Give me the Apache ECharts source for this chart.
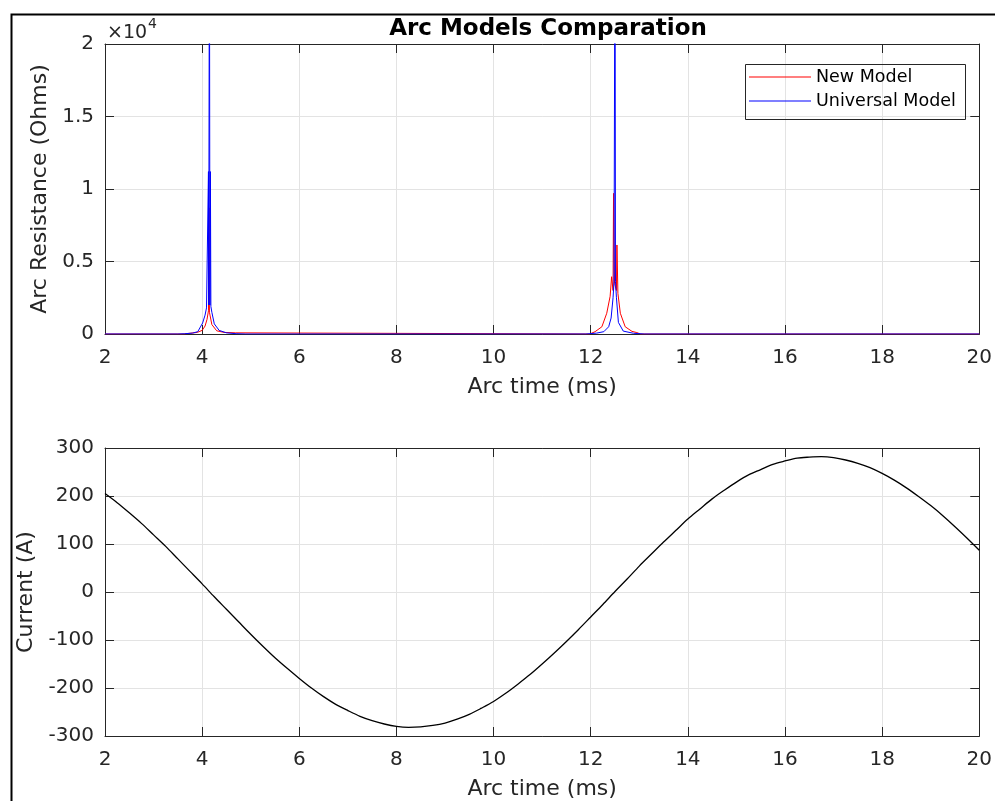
<!DOCTYPE html>
<html>
<head>
<meta charset="utf-8">
<script src="https://cdn.jsdelivr.net/npm/echarts@6/dist/echarts.min.js"></script>
<style>
  html, body { margin: 0; padding: 0; background: #ffffff; }
  #chart { width: 995px; height: 801px; }
</style>
</head>
<body>
<div id="chart"></div>
<script>
// ---- data ----
// x tick labels (ms)
var timeTicks = [2, 4, 6, 8, 10, 12, 14, 16, 18, 20];
// top axis tick labels (×10^4 Ohms)
var resistanceTicks = ['0', '0.5', '1', '1.5', '2'];
// bottom axis tick labels (A)
var currentTicks = ['-300', '-200', '-100', '0', '100', '200', '300'];

// New Model arc resistance [time ms, Ohms]
var newModel = [
  [2, 0], [3.62, 0], [3.64, 80], [3.9, 110], [4.0, 250], [4.06, 550], [4.1, 1000],
  [4.13, 1600], [4.14, 8700], [4.15, 1500], [4.2, 650], [4.3, 220], [4.45, 110],
  [4.69, 80], [4.7, 0],
  [11.98, 0], [12.09, 160], [12.23, 500], [12.33, 1430], [12.4, 2600], [12.43, 3950],
  [12.46, 3000], [12.47, 9700], [12.49, 3500], [12.53, 3000], [12.54, 6140],
  [12.56, 2800], [12.61, 1430], [12.71, 500], [12.85, 180], [12.95, 100],
  [13.02, 0], [20, 0]
];

// Universal Model arc resistance [time ms, Ohms]
var universalModel = [
  [2, 0], [3.5, 0], [3.64, 20], [3.8, 60], [3.91, 160], [4.01, 760], [4.06, 1300],
  [4.09, 1800], [4.12, 1900], [4.13, 11200], [4.135, 2000], [4.14, 11000],
  [4.15, 30000], [4.16, 2000], [4.17, 11200], [4.18, 1900], [4.2, 1500],
  [4.25, 700], [4.35, 250], [4.5, 80], [4.7, 20], [4.9, 0],
  [11.9, 0], [12.12, 60], [12.27, 160], [12.37, 500], [12.42, 1100], [12.46, 2500],
  [12.48, 3600], [12.5, 30000], [12.51, 3600], [12.53, 2500], [12.57, 800],
  [12.67, 200], [12.88, 50], [13.1, 0], [20, 0]
];

// Current [time ms, A]
var currentTime = [
  2, 2.25, 2.5, 2.75, 3, 3.25, 3.5, 3.75, 4, 4.25, 4.5, 4.75, 5, 5.25, 5.5, 5.75,
  6, 6.25, 6.5, 6.75, 7, 7.25, 7.5, 7.75, 8, 8.25, 8.5, 8.75, 9, 9.25, 9.5, 9.75,
  10, 10.25, 10.5, 10.75, 11, 11.25, 11.5, 11.75, 12, 12.25, 12.5, 12.75, 13, 13.25,
  13.5, 13.75, 14, 14.25, 14.5, 14.75, 15, 15.25, 15.5, 15.75, 16, 16.25, 16.5,
  16.75, 17, 17.25, 17.5, 17.75, 18, 18.25, 18.5, 18.75, 19, 19.25, 19.5, 19.75, 20
];
var currentValues = [
  205, 186, 165, 143, 119, 95, 69, 43, 17, -10, -36, -62, -88, -113, -137, -159,
  -180, -200, -218, -234, -247, -259, -268, -275, -280, -282, -281, -278, -273, -265, -255, -242,
  -228, -211, -192, -172, -150, -127, -103, -78, -52, -26, 1, 27, 54, 79,
  104, 128, 152, 173, 194, 212, 229, 244, 255, 266, 273, 279, 281,
  282, 280, 275, 268, 259, 247, 233, 217, 199, 180, 159, 136, 112, 87
];

// ---- chart ----
var FONT = 'DejaVu Sans';
var AX = '#262626';
var GRIDC = '#e3e3e3';

var currentData = currentTime.map(function (t, i) { return [t, currentValues[i]]; });

function xMain(gi) {
  return {
    type: 'value', gridIndex: gi, position: 'bottom',
    min: timeTicks[0], max: timeTicks[timeTicks.length - 1], interval: 2,
    axisLine: { show: true, onZero: false, lineStyle: { color: AX, width: 1 } },
    axisTick: { show: true, inside: true, length: 9, lineStyle: { color: AX } },
    axisLabel: { color: AX, fontSize: 20, fontFamily: FONT, margin: 14 },
    splitLine: { show: true, lineStyle: { color: GRIDC, width: 1 } },
    name: 'Arc time (ms)', nameLocation: 'middle', nameGap: 42,
    nameTextStyle: { color: AX, fontSize: 22, fontFamily: FONT }
  };
}
function xTop(gi) {
  return {
    type: 'value', gridIndex: gi, position: 'top',
    min: timeTicks[0], max: timeTicks[timeTicks.length - 1], interval: 2,
    axisLine: { show: true, onZero: false, lineStyle: { color: AX, width: 1 } },
    axisTick: { show: true, inside: true, length: 9, lineStyle: { color: AX } },
    axisLabel: { show: false }, splitLine: { show: false }
  };
}
function yRight(gi, min, max, interval) {
  return {
    type: 'value', gridIndex: gi, position: 'right', min: min, max: max, interval: interval,
    axisLine: { show: true, onZero: false, lineStyle: { color: AX, width: 1 } },
    axisTick: { show: true, inside: true, length: 9, lineStyle: { color: AX } },
    axisLabel: { show: false }, splitLine: { show: false }
  };
}

var option = {
  backgroundColor: '#ffffff',
  animation: false,
  title: {
    text: 'Arc Models Comparation', left: 543, top: 13, textAlign: 'center',
    textStyle: { color: '#000000', fontSize: 23, fontWeight: 'bold', fontFamily: FONT }
  },
  legend: {
    data: ['New Model', 'Universal Model'], orient: 'vertical',
    left: 743, top: 62, padding: [3, 6, 3, 6], itemGap: 0,
    itemWidth: 62, itemHeight: 1, icon: 'rect', selectedMode: false,
    textStyle: { color: '#000000', fontSize: 17.5, fontFamily: FONT, lineHeight: 24 }
  },
  grid: [
    { left: 105, right: 13, top: 44, height: 290 },
    { left: 105, right: 13, top: 448, height: 289 }
  ],
  xAxis: [xMain(0), xTop(0), xMain(1), xTop(1)],
  yAxis: [
    {
      type: 'value', gridIndex: 0, min: 0, max: 20000, interval: 5000,
      axisLine: { show: true, onZero: false, lineStyle: { color: AX, width: 1 } },
      axisTick: { show: true, inside: true, length: 9, lineStyle: { color: AX } },
      axisLabel: {
        color: AX, fontSize: 20, fontFamily: FONT, margin: 11,
        formatter: function (v) { return resistanceTicks[Math.round(v / 5000)]; }
      },
      splitLine: { show: true, lineStyle: { color: GRIDC, width: 1 } },
      name: 'Arc Resistance (Ohms)', nameLocation: 'middle', nameGap: 50,
      nameTextStyle: { color: AX, fontSize: 22, fontFamily: FONT }
    },
    yRight(0, 0, 20000, 5000),
    {
      type: 'value', gridIndex: 1, min: -300, max: 300, interval: 100,
      axisLine: { show: true, onZero: false, lineStyle: { color: AX, width: 1 } },
      axisTick: { show: true, inside: true, length: 9, lineStyle: { color: AX } },
      axisLabel: {
        color: AX, fontSize: 20, fontFamily: FONT, margin: 11,
        formatter: function (v) { return currentTicks[Math.round((v + 300) / 100)]; }
      },
      splitLine: { show: true, lineStyle: { color: GRIDC, width: 1 } },
      name: 'Current (A)', nameLocation: 'middle', nameGap: 67,
      nameTextStyle: { color: AX, fontSize: 22, fontFamily: FONT }
    },
    yRight(1, -300, 300, 100)
  ],
  series: [
    {
      name: 'New Model', type: 'line', xAxisIndex: 0, yAxisIndex: 0,
      data: newModel, symbol: 'none', showSymbol: false, clip: true,
      color: '#ff0000', lineStyle: { color: '#ff0000', width: 1 }
    },
    {
      name: 'Universal Model', type: 'line', xAxisIndex: 0, yAxisIndex: 0,
      data: universalModel, symbol: 'none', showSymbol: false, clip: true,
      color: '#0000ff', lineStyle: { color: '#0000ff', width: 1 }
    },
    {
      name: 'Current', type: 'line', xAxisIndex: 2, yAxisIndex: 2,
      data: currentData, symbol: 'none', showSymbol: false, smooth: 0.3, clip: true,
      color: '#000000', lineStyle: { color: '#000000', width: 1.3 }
    }
  ],
  graphic: [
    {
      type: 'rect', left: 9, top: 12, silent: true, z: -1,
      shape: { width: 1000, height: 800 },
      style: { fill: 'none', stroke: '#000000', lineWidth: 2 }
    },
    {
      type: 'rect', left: 743, top: 62, silent: true, z: 5,
      shape: { width: 220, height: 55 },
      style: { fill: 'none', stroke: AX, lineWidth: 1 }
    },
    {
      type: 'text', left: 107, top: 24, silent: true,
      style: { text: '×10', fill: AX, font: '19px "DejaVu Sans"' }
    },
    {
      type: 'text', left: 148, top: 17, silent: true,
      style: { text: '4', fill: AX, font: '14px "DejaVu Sans"' }
    }
  ]
};

var chart = echarts.init(document.getElementById('chart'), null, { renderer: 'canvas' });
chart.setOption(option);
</script>
</body>
</html>
